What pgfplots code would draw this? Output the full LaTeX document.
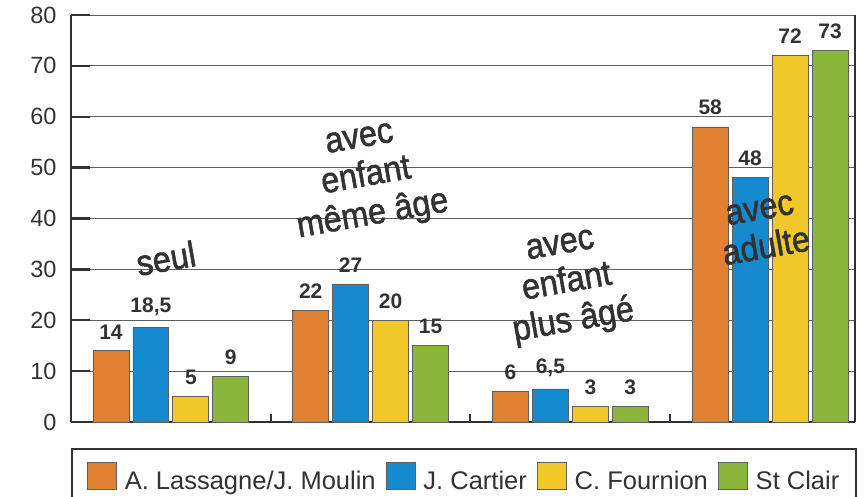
\documentclass[border=0pt]{standalone}
\usepackage{fontspec}
\setmainfont{Liberation Sans}
\newfontfamily\grpfont{Liberation Sans}[FakeBold=1.5, FakeStretch=0.9]
\usepackage{pgfplots}
\pgfplotsset{compat=1.18}
\definecolor{cOr}{RGB}{224,128,48}
\definecolor{cBl}{RGB}{22,138,206}
\definecolor{cYe}{RGB}{240,200,42}
\definecolor{cGr}{RGB}{138,182,60}
\definecolor{txt}{RGB}{50,50,50}
\definecolor{grd}{RGB}{95,95,95}
\pgfplotsset{
  mybar/.style={ybar, bar width=0.18, bar shift=0pt, draw=grd, line width=0.8pt,
    legend image code/.code={\draw[##1, line width=0.8pt] (0pt,-8pt) rectangle (29pt,19pt);}},
}
\begin{document}
\begin{tikzpicture}
\useasboundingbox (-71pt,-75pt) rectangle (794pt,422pt);
\clip (-71pt,-75pt) rectangle (794pt,422pt);
\begin{axis}[
  at={(0pt,0pt)}, anchor=south west,
  scale only axis, width=784pt, height=407pt,
  xmin=-0.5, xmax=3.425, ymin=0, ymax=80,
  axis x line*=bottom, axis y line*=box,
  axis line style={line width=2.4pt, draw=txt},
  ytick={0,10,...,80}, ytick pos=left,
  ymajorgrids, grid style={line width=0.9pt, draw=grd},
  tick align=inside, major tick length=19pt,
  ytick style={line width=2.4pt, draw=txt},
  xtick={0.5,1.5,2.5}, xticklabels={}, xtick pos=bottom,
  xtick style={line width=2pt, draw=txt, /pgfplots/major tick length=8pt},
  yticklabel style={font=\fontsize{23.5}{23.5}\selectfont, text=txt, xshift=-11pt},
  /pgf/number format/assume math mode=true,
  point meta=explicit symbolic,
  nodes near coords,
  nodes near coords style={font=\bfseries\fontsize{21}{21}\selectfont, text=txt, yshift=8pt},
  legend columns=4,
  legend style={at={(axis description cs:0,0)}, anchor=north west, yshift=-26pt,
    draw=txt, line width=2pt, font=\fontsize{25.5}{25.5}\selectfont, text=txt,
    inner xsep=15pt, inner ysep=13pt,
    /tikz/every odd column/.append style={column sep=6pt},
    /tikz/every even column/.append style={column sep=8pt}},
  clip=false,
]
\addplot[mybar, fill=cOr] coordinates {(-0.3,14)[14] (0.7,22)[22] (1.7,6)[6] (2.7,58)[58]};
\addplot[mybar, fill=cBl] coordinates {(-0.1,18.5)[18,5] (0.9,27)[27] (1.9,6.5)[6,5] (2.9,48)[48]};
\addplot[mybar, fill=cYe] coordinates {(0.1,5)[5] (1.1,20)[20] (2.1,3)[3] (3.1,72)[72]};
\addplot[mybar, fill=cGr] coordinates {(0.3,9)[9] (1.3,15)[15] (2.3,3)[3] (3.3,73)[73]};
\legend{A. Lassagne/J. Moulin, J. Cartier, C. Fournion, St Clair}
\begin{scope}[every node/.style={rotate=10, align=center, text=txt, font=\grpfont\fontsize{36}{39}\selectfont}]
\node at (axis cs:-0.025,32.2) {seul};
\node at (axis cs:0.98,47.6) {avec\\enfant\\même âge};
\node at (axis cs:1.985,26.7) {avec\\enfant\\plus âgé};
\node at (axis cs:2.965,37.9) {avec\\adulte};
\end{scope}
\end{axis}
\end{tikzpicture}
\end{document}
